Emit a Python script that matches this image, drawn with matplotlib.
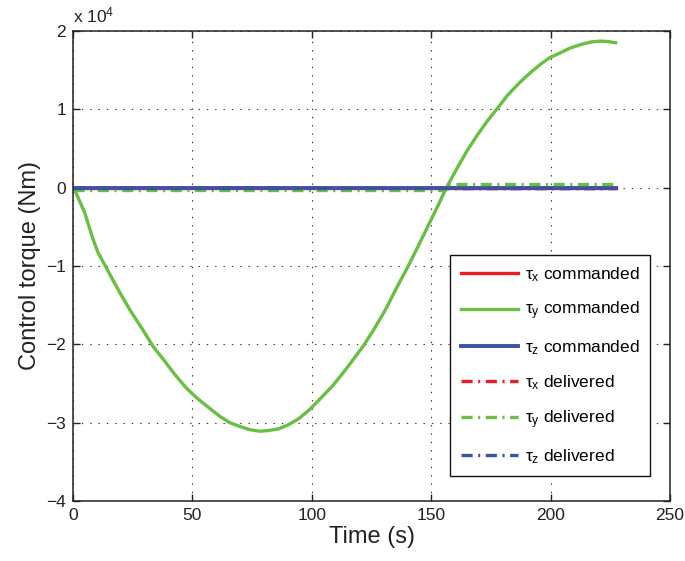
import matplotlib
matplotlib.use("Agg")
import matplotlib.pyplot as plt
from matplotlib.ticker import FuncFormatter, MultipleLocator

plt.rcParams['font.family'] = ['Liberation Sans', 'DejaVu Sans']
plt.rcParams['mathtext.fontset'] = 'custom'
plt.rcParams['mathtext.rm'] = 'Liberation Sans'
plt.rcParams['mathtext.it'] = 'Liberation Sans'
plt.rcParams['lines.scale_dashes'] = False

# ---- data ----
t_cmd = [0, 0.3, 2, 4.9, 8.4, 10.5, 13, 16, 19.6, 24, 28.5, 33.6, 38, 42.5, 47.5,
         52, 56.5, 61.5, 65.6, 70, 74, 78.3, 82, 86, 90, 94.5, 99.2, 104, 109,
         115, 121.6, 126, 131, 135.5, 140.4, 144.5, 148.5, 152.5, 156.4, 160.5,
         165, 169.5, 173.5, 177.4, 182, 187, 192, 196, 199.7, 204, 208, 213, 217,
         220.7, 224, 227.2]
tau_y_cmd = [0, 0, -1200, -3200, -6600, -8300, -9700, -11400, -13400, -15700,
             -17800, -20300, -22000, -23800, -25600, -26900, -28000, -29200,
             -30000, -30500, -30900, -31100, -31000, -30800, -30300, -29500,
             -28300, -26800, -25200, -22900, -20200, -18100, -15500, -12800,
             -10000, -7500, -5000, -2500, 0, 2300, 4700, 6800, 8500, 10000,
             11800, 13400, 14800, 15800, 16600, 17200, 17800, 18300, 18600,
             18700, 18650, 18500]
t_zero = [0, 227.2]
tau_x_cmd = [0, 0]
tau_z_cmd = [0, 0]
t_del = [0, 155.8, 155.8, 227.2]
tau_y_del = [-300, -300, 450, 450]
tau_x_del = [0, 0]
tau_z_del = [0, 0]

red = '#ed1c24'
green = '#6abe45'
blue = '#3953a4'

fig = plt.figure(figsize=(6.85, 5.61), dpi=100)
ax = fig.add_axes([0.1066, 0.107, 0.8715, 0.8378])

lw = 2.4
dd = (8, 4, 1.5, 4)
ax.plot(t_zero, tau_x_cmd, color=red, lw=lw, label=r'$\tau_x$ commanded')
ax.plot(t_cmd, tau_y_cmd, color=green, lw=lw, label=r'$\tau_y$ commanded',
        solid_joinstyle='round')
ax.plot(t_zero, tau_z_cmd, color=blue, lw=lw + 0.4, label=r'$\tau_z$ commanded')
l4, = ax.plot(t_zero, tau_x_del, color=red, lw=lw, label=r'$\tau_x$ delivered')
l5, = ax.plot(t_del, tau_y_del, color=green, lw=lw, label=r'$\tau_y$ delivered')
l6, = ax.plot(t_zero, tau_z_del, color=blue, lw=lw, label=r'$\tau_z$ delivered')
for l in (l4, l5, l6):
    l.set_dashes(dd)

ax.set_xlim(0, 250)
ax.set_ylim(-40000, 20000)
ax.xaxis.set_major_locator(MultipleLocator(50))
ax.yaxis.set_major_locator(MultipleLocator(10000))
ax.yaxis.set_major_formatter(FuncFormatter(lambda v, p: f'{v/1e4:g}'.replace('-', '\u2212')))
ax.xaxis.set_major_formatter(FuncFormatter(lambda v, p: f'{v:g}'))

ax.grid(True, color='#333333', linestyle=(0, (1, 5)), linewidth=0.8)
ax.tick_params(direction='in', length=5, width=1, top=True, right=True,
               labelsize=12.5, colors='#222222', pad=5)
for s in ax.spines.values():
    s.set_linewidth(1.1)
    s.set_color('#222222')

ax.set_xlabel('Time (s)', fontsize=17, color='#222222', labelpad=2)
ax.set_ylabel('Control torque (Nm)', fontsize=17, color='#222222', labelpad=4)

ax.text(0.0, 1.012, r'x 10$^{4}$', transform=ax.transAxes, fontsize=12.5,
        color='#222222', ha='left', va='bottom')

leg = ax.legend(loc='lower right', bbox_to_anchor=(0.9665, 0.053),
                fontsize=12.5, handlelength=3.3, handletextpad=0.4,
                labelspacing=0.93, borderpad=0.6, fancybox=False,
                framealpha=1, edgecolor='#111111', borderaxespad=0)
leg.get_frame().set_linewidth(1.0)

fig.savefig('out.png', dpi=100)
